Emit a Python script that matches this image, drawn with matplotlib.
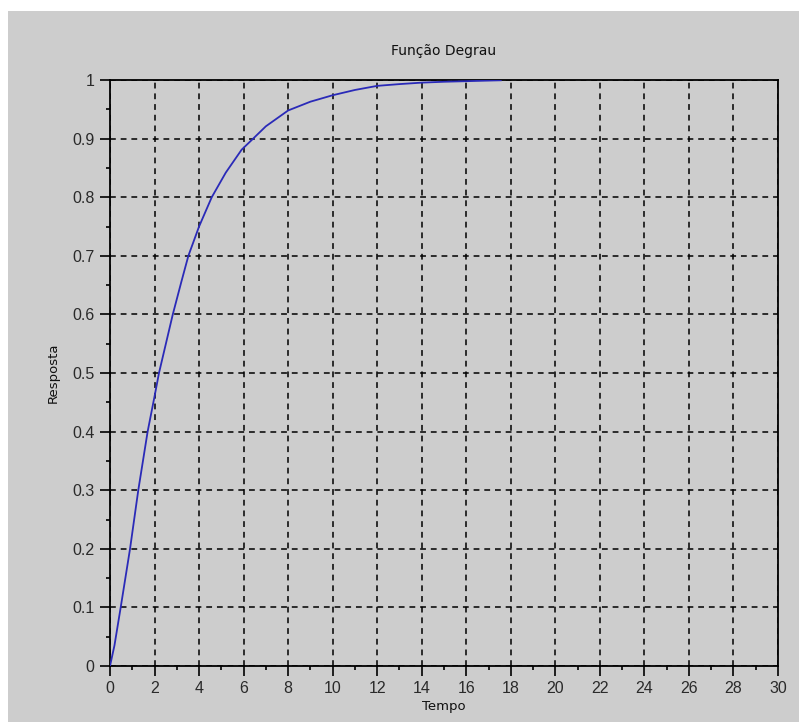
import matplotlib
matplotlib.use("Agg")
import matplotlib.pyplot as plt
from matplotlib.patches import Rectangle
from matplotlib.ticker import MultipleLocator

# valores (resposta ao degrau)
tempo = [0, 0.2, 0.48, 0.9, 1.27, 1.69, 2.0, 2.2, 2.82, 3.2, 3.52, 4.0, 4.57, 5.2, 5.91,
         6.43, 7.0, 8.0, 9.0, 10.0, 11.0, 12.0, 13.0, 14.0, 15.0, 16.0, 17.0, 17.55]
resposta = [0, 0.035, 0.1, 0.2, 0.3, 0.4, 0.46, 0.5, 0.6, 0.655, 0.7, 0.75, 0.8, 0.842, 0.881,
            0.9, 0.921, 0.948, 0.963, 0.974, 0.983, 0.99, 0.993, 0.9955, 0.997, 0.998, 0.999, 0.9995]

xticks = list(range(0, 31, 2))
yticks = [0, 0.1, 0.2, 0.3, 0.4, 0.5, 0.6, 0.7, 0.8, 0.9, 1]
ytick_labels = ["0", "0.1", "0.2", "0.3", "0.4", "0.5", "0.6", "0.7", "0.8", "0.9", "1"]

cinza = "#cdcdcd"
W, H = 799, 722
fig = plt.figure(figsize=(W / 100, H / 100), dpi=100)
fig.patch.set_facecolor("white")
fig.patches.append(Rectangle((8 / W, 0), 1 - 8 / W, 1 - 11 / H, transform=fig.transFigure,
                             facecolor=cinza, edgecolor="none", zorder=-10))

ax = fig.add_axes([110 / W, 1 - 666 / H, (778 - 110) / W, (666 - 80) / H])
ax.set_facecolor(cinza)
ax.plot(tempo, resposta, color="#2a2ab8", lw=1.3, zorder=3)

ax.set_xlim(0, 30)
ax.set_ylim(0, 1)
ax.set_xticks(xticks)
ax.set_yticks(yticks)
ax.set_yticklabels(ytick_labels)
ax.xaxis.set_minor_locator(MultipleLocator(1))
ax.yaxis.set_minor_locator(MultipleLocator(0.05))
ax.tick_params(which="major", length=7, width=1.2, pad=4, labelsize=11.5, colors="black")
ax.tick_params(which="minor", length=3, width=1.2)
for lab in ax.get_xticklabels() + ax.get_yticklabels():
    lab.set_family("Liberation Sans")
    lab.set_color("#2a2a2a")

ax.grid(True, which="major", color="black", lw=1.1, linestyle=(0, (3.8, 3.2)))
ax.set_axisbelow(True)
for s in ax.spines.values():
    s.set_linewidth(1.3)
    s.set_color("black")

ax.set_title("Função Degrau", fontsize=10, pad=18, color="#111111")
ax.set_xlabel("Tempo", fontsize=9.5, labelpad=3, color="#111111")
ax.set_ylabel("Resposta", fontsize=9.5, labelpad=9, color="#111111")

fig.savefig("out.png", dpi=100, facecolor=fig.get_facecolor())
